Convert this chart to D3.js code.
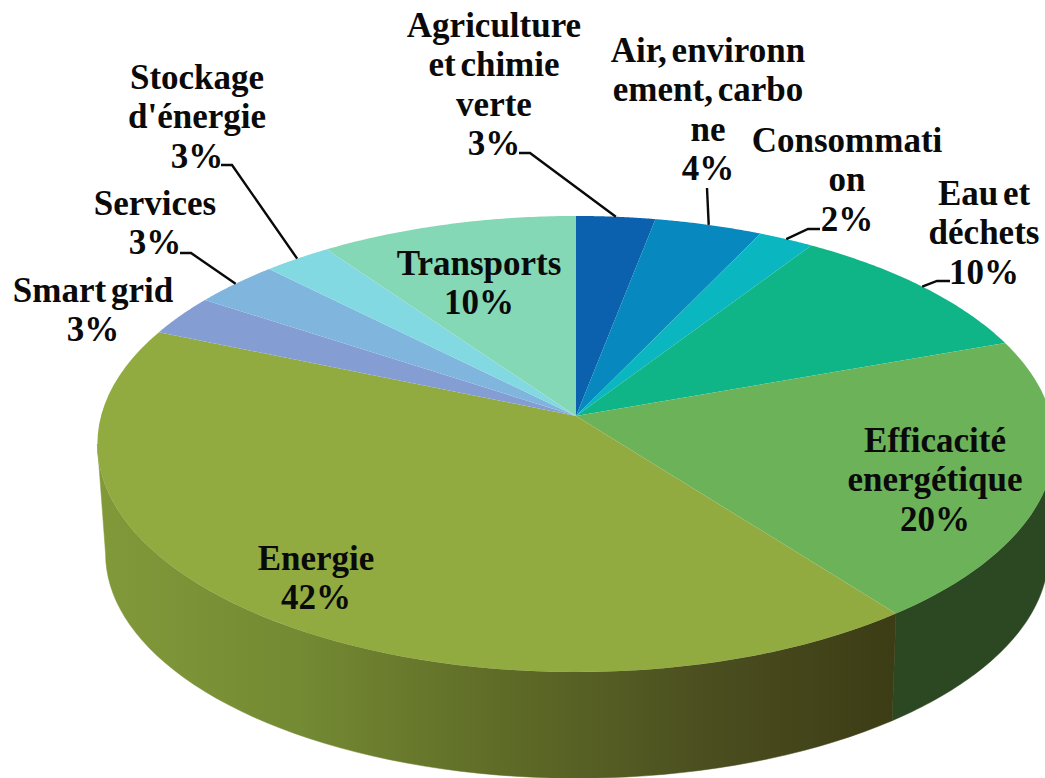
<!DOCTYPE html>
<html><head><meta charset="utf-8">
<style>html,body{margin:0;padding:0;background:#fff;overflow:hidden}svg{display:block}text{font-family:"Liberation Serif",serif;font-weight:700;font-size:35px;word-spacing:-4px;fill:#0a0a0a;text-anchor:middle}</style>
<script src="https://cdnjs.cloudflare.com/ajax/libs/d3/7.8.5/d3.min.js"></script>
</head><body><svg id="c" width="1045" height="778"></svg>
<script>
const categories=["Agriculture et chimie verte","Air, environnement, carbone","Consommation","Eau et déchets","Efficacité énergétique","Energie","Smart grid","Services","Stockage d'énergie","Transports"];
const shares=[3.0,4.1,2.1,10.3,20.1,41.8,2.9,3.3,2.6,9.8];
const percentLabels=["3%","4%","2%","10%","20%","42%","3%","3%","3%","10%"];
const labelLines=[["Agriculture","et chimie","verte"],["Air, environn","ement, carbo","ne"],["Consommati","on"],["Eau et","déchets"],["Efficacité","energétique"],["Energie"],["Smart grid"],["Services"],["Stockage","d'énergie"],["Transports"]];
const topColors=["#0b61ad","#0789bf","#0ab6bf","#0fb587","#6cb259","#92ab40","#849dd3","#80b5dd","#82d9e1","#85d8b6"];
// layout: label centre x, first baseline y
const labelAnchors=[[494,37],[708,62],[847,152],[984,205],[935,452],[316,570],[93,302],[155,215],[197,89],[479,275]];
// leader elbow: [start, elbow] or null
const leaders=[[[519,153],[530,153]],[[707,188],null],[[820,229],[808,229]],[[950,281],[937,281]],null,null,null,[[180,253],[191,253]],[[221,165],[232,165]],null];
const lineStep=39.3;

const cx=576,cy=416,R=475,p=0.1228,k=224.6,depthScale=0.985,bottomY=526,bottomCx=577;
const proj=(a,s=1,y0=cy,x0=cx)=>{const u=Math.sin(a),v=-Math.cos(a),d=1-p*v;return [x0+s*R*u/d,y0+s*k*v/d];};
const svg=d3.select("#c");
const arcs=d3.pie().sort(null).value(d=>d)(shares);
const line=d3.line();
const samples=(a0,a1)=>d3.range(0,61).map(i=>a0+(a1-a0)*i/60);
const visStart=Math.acos(-p),visEnd=2*Math.PI-visStart;

const defs=svg.append("defs");
const g=defs.append("linearGradient").attr("id","sideE").attr("gradientUnits","userSpaceOnUse").attr("x1",100).attr("x2",895).attr("y1",0).attr("y2",0);
[[0,"#82993a"],[0.25,"#748a33"],[0.5,"#5f6c27"],[0.75,"#4c5020"],[1,"#3c3c15"]].forEach(s=>g.append("stop").attr("offset",s[0]).attr("stop-color",s[1]));

const sideColor=i=>i===5?"url(#sideE)":"#2c4823";
svg.append("g").selectAll("path").data(arcs.filter(d=>d.endAngle>visStart&&d.startAngle<visEnd)).join("path")
  .attr("d",d=>{const s=samples(Math.max(d.startAngle,visStart),Math.min(d.endAngle,visEnd));return line(s.map(a=>proj(a)).concat(s.slice().reverse().map(a=>proj(a,depthScale,bottomY,bottomCx))))+"Z";})
  .attr("fill",d=>sideColor(d.index)).attr("stroke",d=>sideColor(d.index)).attr("stroke-width",0.5);

svg.append("g").selectAll("path").data(arcs).join("path")
  .attr("d",d=>line([[cx,cy]].concat(samples(d.startAngle,d.endAngle).map(a=>proj(a))))+"Z")
  .attr("fill",d=>topColors[d.index]);

svg.append("g").selectAll("path").data(arcs.filter(d=>leaders[d.index])).join("path")
  .attr("d",d=>{const l=leaders[d.index],e=proj((d.startAngle+d.endAngle)/2);return line([l[0]].concat(l[1]?[l[1]]:[]).concat([e]));})
  .attr("fill","none").attr("stroke","#0a0a0a").attr("stroke-width",2.4);

const lab=svg.append("g").selectAll("text").data(arcs).join("text")
  .attr("x",d=>labelAnchors[d.index][0]).attr("y",d=>labelAnchors[d.index][1]);
lab.selectAll("tspan").data(d=>labelLines[d.index].concat([percentLabels[d.index]]).map((t,i)=>({t,i,d}))).join("tspan")
  .attr("x",e=>labelAnchors[e.d.index][0])
  .attr("y",e=>labelAnchors[e.d.index][1]+e.i*lineStep)
  .text(e=>e.t);
</script></body></html>
